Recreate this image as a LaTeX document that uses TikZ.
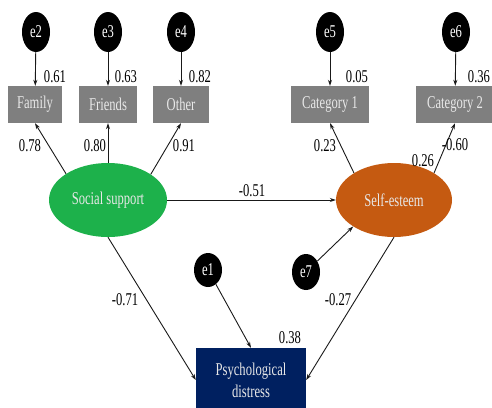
\documentclass[tikz,border=0pt]{standalone}
\usepackage{fontspec}
\setmainfont{Liberation Serif}[FakeStretch=0.7]
\usetikzlibrary{shapes.geometric,arrows.meta}

\definecolor{boxgray}{RGB}{127,127,127}
\definecolor{ssgreen}{RGB}{29,177,75}
\definecolor{seorange}{RGB}{197,90,17}
\definecolor{pdnavy}{RGB}{0,32,96}
\definecolor{boxtext}{RGB}{232,232,232}
\definecolor{linecol}{RGB}{25,25,25}

\tikzset{
  txt/.style={font=\fontsize{18}{22}\selectfont},
  errvar/.style={txt, ellipse, fill=black, text=white, inner sep=0pt,
                 minimum width=28pt, minimum height=40pt},
  indicator/.style={txt, rectangle, fill=boxgray, text=boxtext, inner sep=0pt,
                    minimum height=37pt},
  latent/.style={txt, ellipse, inner sep=0pt, text=boxtext,
                 minimum width=118pt, minimum height=74pt},
  coef/.style={txt, inner sep=0pt, text=black},
  path/.style={draw=linecol, line width=0.9pt,
               -{Stealth[length=6pt,width=4pt]}}
}

\begin{document}
\begin{tikzpicture}[x=1pt,y=-1pt]
  \useasboundingbox (0,0) rectangle (492,407);

  % error terms
  \node[errvar] (e2) at (36,32) {e2};
  \node[errvar] (e3) at (108,32) {e3};
  \node[errvar] (e4) at (181,32) {e4};
  \node[errvar] (e5) at (330,32) {e5};
  \node[errvar] (e6) at (456,32) {e6};
  \node[errvar, minimum height=36pt] (e7) at (306,272) {e7};
  \node[errvar, minimum height=34pt] (e1) at (208,270) {e1};

  % observed indicators
  \node[indicator, minimum width=54pt] (fam) at (35,104.5) {Family};
  \node[indicator, minimum width=58pt] (fri) at (108,104.5) {Friends};
  \node[indicator, minimum width=56pt] (oth) at (181,104.5) {Other};
  \node[indicator, minimum width=78pt] (cat1) at (330,104.5) {Category 1};
  \node[indicator, minimum width=78pt] (cat2) at (455,104.5) {Category 2};

  % latent constructs
  \node[latent, fill=ssgreen] (ss) at (108,200) {Social support};
  \node[latent, fill=seorange, minimum width=116pt] (se) at (394,200) {Self-esteem};

  % outcome
  \node[txt, rectangle, fill=pdnavy, text=boxtext, align=center, inner sep=0pt,
        minimum width=110pt, minimum height=64pt] (pd) at (251,380)
        {Psychological\\distress};

  % error paths
  \draw[path] (e2) -- (fam);
  \draw[path] (e3) -- (fri);
  \draw[path] (e4) -- (oth);
  \draw[path] (e5) -- (cat1);
  \draw[path] (e6) -- (cat2);
  \draw[path] (e7) -- (se.213);
  \draw[path] (e1) -- (pd.north);

  % measurement paths
  \draw[path] (ss.148) -- (fam.south);
  \draw[path] (ss.north) -- (fri.south);
  \draw[path] (ss.31) -- (oth.south);
  \draw[path] (se.146) -- (cat1.south);
  \draw[path] (se.34) -- (cat2.south);

  % structural paths
  \draw[path] (ss.east) -- (se.west);
  \draw[path] (ss.south) -- (pd.west);
  \draw[path] (se.south) -- (pd.east);

  % coefficients
  \node[coef] (c61) at (55,77) {0.61};
  \node[coef] (c63) at (126,77) {0.63};
  \node[coef] (c82) at (200,77) {0.82};
  \node[coef] (c05) at (357,77) {0.05};
  \node[coef] (c36) at (479,77) {0.36};
  \node[coef] (c78) at (30,146) {0.78};
  \node[coef] (c80) at (95,146) {0.80};
  \node[coef] (c91) at (184,146) {0.91};
  \node[coef] (c23) at (325,146) {0.23};
  \node[coef] (c26) at (423,161) {0.26};
  \node[coef] (c60) at (455,145) {-0.60};
  \node[coef] (c51) at (252,191) {-0.51};
  \node[coef] (c71) at (125,300) {-0.71};
  \node[coef] (c27) at (338,300) {-0.27};
  \node[coef] (c38) at (290,338) {0.38};
\end{tikzpicture}
\end{document}
